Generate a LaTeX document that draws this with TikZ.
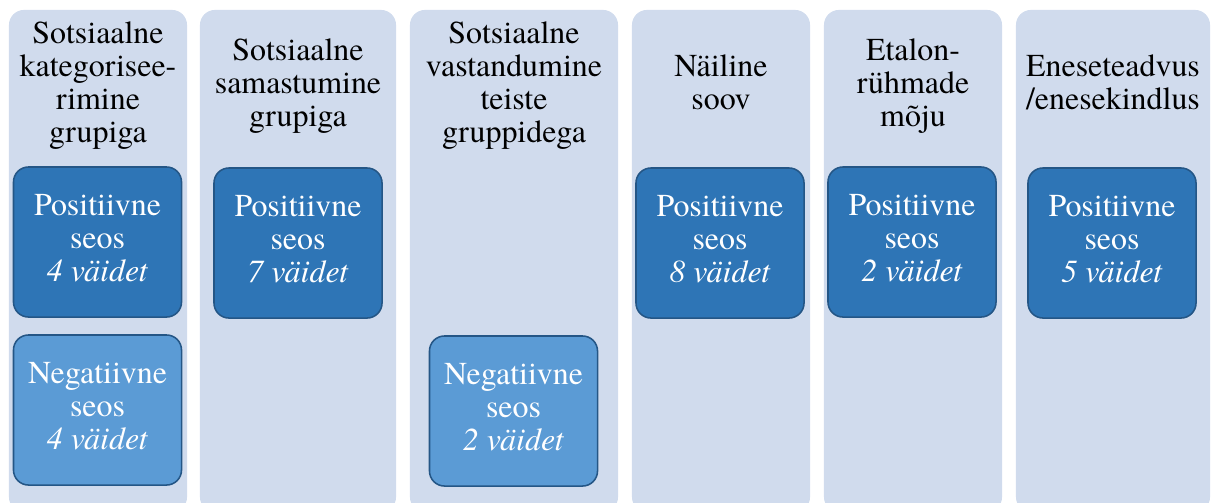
\documentclass[tikz,border=0pt]{standalone}
\usepackage{fontspec}
\setmainfont{TeX Gyre Termes}
\usepackage{tikz}
\definecolor{smaPale}{RGB}{208,219,237}
\definecolor{smaDark}{RGB}{46,117,182}
\definecolor{smaLight}{RGB}{91,155,213}
\definecolor{smaEdge}{RGB}{36,86,134}

\begin{document}
\begin{tikzpicture}[
    x=0.025cm, y=-0.025cm,
    colbox/.style={fill=smaPale, rectangle, rounded corners=0.375cm, inner sep=0pt, minimum height=12.55cm},
    headtext/.style={align=center, inner sep=0pt, text=black, font=\fontsize{22.7}{23.5}\selectfont},
    posbox/.style={draw=smaEdge, fill=smaDark, rectangle, rounded corners=0.375cm, line width=1.1pt, inner sep=0pt, minimum width=4.2cm, minimum height=3.75cm, align=center, text=white, font=\fontsize{22.7}{23.5}\selectfont},
    negbox/.style={posbox, fill=smaLight}
]

\clip (0,0) rectangle (1211,502);

% Columns
\node (col1) [colbox, minimum width=4.45cm] at (98, 261) {};
\node (col2) [colbox, minimum width=4.9cm] at (298, 261) {};
\node (col3) [colbox, minimum width=5.2cm] at (514, 261) {};
\node (col4) [colbox, minimum width=4.45cm] at (721, 261) {};
\node (col5) [colbox, minimum width=4.45cm] at (913, 261) {};
\node (col6) [colbox, minimum width=4.85cm] at (1113, 261) {};

% Headings
\node (head1) [headtext] at (98, 86.7) {\strut Sotsiaalne\\\strut kategorisee-\\\strut rimine\\\strut grupiga};
\node (head2) [headtext] at (298, 86.7) {\strut Sotsiaalne\\\strut samastumine\\\strut grupiga};
\node (head3) [headtext] at (514, 86.7) {\strut Sotsiaalne\\\strut vastandumine\\\strut teiste\\\strut gruppidega};
\node (head4) [headtext] at (721, 86.7) {\strut Näiline\\\strut soov};
\node (head5) [headtext] at (913, 86.7) {\strut Etalon-\\\strut rühmade\\\strut mõju};
\node (head6) [headtext] at (1113, 86.7) {\strut Eneseteadvus\\\strut /enesekindlus};

% Boxes
\node (pos1) [posbox] at (97.5, 242) {\strut Positiivne\\\strut seos\\\strut\textit{4 väidet}};
\node (neg1) [negbox] at (97.5, 410) {\strut Negatiivne\\\strut seos\\\strut\textit{4 väidet}};
\node (pos2) [posbox] at (298, 243) {\strut Positiivne\\\strut seos\\\strut\textit{7 väidet}};
\node (neg3) [negbox] at (513.5, 411) {\strut Negatiivne\\\strut seos\\\strut\textit{2 väidet}};
\node (pos4) [posbox] at (720, 243) {\strut Positiivne\\\strut seos\\\strut\textit{8 väidet}};
\node (pos5) [posbox] at (912, 242) {\strut Positiivne\\\strut seos\\\strut\textit{2 väidet}};
\node (pos6) [posbox] at (1112, 243) {\strut Positiivne\\\strut seos\\\strut\textit{5 väidet}};

\end{tikzpicture}
\end{document}
